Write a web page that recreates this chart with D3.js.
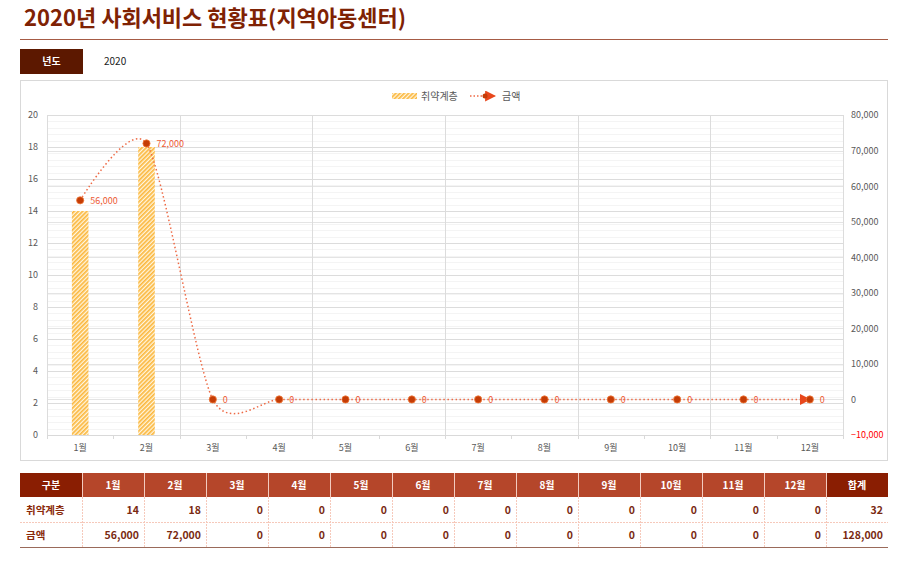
<!DOCTYPE html>
<html><head><meta charset="utf-8">
<script src="https://cdn.jsdelivr.net/npm/d3@7/dist/d3.min.js"></script>
<style>
body{margin:0;background:#fff;font-family:"Noto Sans CJK KR","Noto Sans",sans-serif;}
svg{display:block;}
</style></head><body>
<svg id="c" width="900" height="566"></svg>
<script>
const months = ["1월","2월","3월","4월","5월","6월","7월","8월","9월","10월","11월","12월"];
const vulnerable = [14,18,0,0,0,0,0,0,0,0,0,0];
const amount = [56000,72000,0,0,0,0,0,0,0,0,0,0];
const leftTicks = [0,2,4,6,8,10,12,14,16,18,20];
const rightTicks = [-10000,0,10000,20000,30000,40000,50000,60000,70000,80000];
const seriesNames = ["취약계층","금액"];
const titleText = "2020년 사회서비스 현황표(지역아동센터)";
const yearLabel = "년도", yearValue = "2020";
const tableHead = "구분", totalHead = "합계";

const svg = d3.select("#c");
const font = '"Noto Sans CJK KR","Noto Sans",sans-serif';

// title
svg.append("text").attr("x",24).attr("y",26).attr("font-size",22).attr("font-weight",700)
  .attr("fill","#7f2204").attr("font-family",font).text(titleText);
svg.append("line").attr("x1",20).attr("x2",888).attr("y1",39.5).attr("y2",39.5).attr("stroke","#a65b45").attr("stroke-width",1);
svg.append("rect").attr("x",20).attr("y",49).attr("width",63).attr("height",25).attr("fill","#5c1800");
svg.append("text").attr("x",51.5).attr("y",65).attr("text-anchor","middle").attr("font-size",10).attr("font-weight",700)
  .attr("fill","#fff").attr("font-family",font).text(yearLabel);
svg.append("text").attr("x",104).attr("y",65).attr("font-size",10).attr("fill","#222").attr("font-family",font).text(yearValue);

// chart panel
svg.append("rect").attr("x",20.5).attr("y",80.5).attr("width",867).attr("height",380).attr("fill","#fff").attr("stroke","#d9d9d9");

const L=47,R=843,T=115,B=435;
const x = d3.scaleBand().domain(months).range([L,R]).paddingInner(0.75).paddingOuter(0.375);
const xc = d3.scaleBand().domain(months).range([L,R]).padding(0);
const yL = d3.scaleLinear().domain([0,20]).range([B,T]);
const yR = d3.scaleLinear().domain([-10000,80000]).range([B,T]);

const defs = svg.append("defs");
const pat = defs.append("pattern").attr("id","hatch").attr("patternUnits","userSpaceOnUse")
  .attr("width",3).attr("height",3).attr("patternTransform","rotate(45)");
pat.append("rect").attr("width",3).attr("height",3).attr("fill","#fff6e0");
pat.append("rect").attr("width",1.7).attr("height",3).attr("fill","#fbb83f");
defs.append("marker").attr("id","arrow").attr("viewBox","0 0 10 10").attr("refX",9).attr("refY",5)
  .attr("markerWidth",11).attr("markerHeight",11).attr("markerUnits","userSpaceOnUse").attr("orient","auto")
  .append("path").attr("d","M0,0 L10,5 L0,10 z").attr("fill","#e8471c");

const g = svg.append("g");
// minor grid
g.selectAll(".mn").data(d3.range(0,20.001,0.4)).join("line")
  .attr("x1",L).attr("x2",R).attr("y1",d=>Math.round(yL(d))+0.5).attr("y2",d=>Math.round(yL(d))+0.5)
  .attr("stroke","#f4f4f4");
// right majors
g.selectAll(".rm").data(rightTicks).join("line")
  .attr("x1",L).attr("x2",R).attr("y1",d=>Math.round(yR(d))+0.5).attr("y2",d=>Math.round(yR(d))+0.5)
  .attr("stroke","#e4e4e4");
// left majors
g.selectAll(".lm").data(leftTicks).join("line")
  .attr("x1",L).attr("x2",R).attr("y1",d=>Math.round(yL(d))+0.5).attr("y2",d=>Math.round(yL(d))+0.5)
  .attr("stroke","#dcdcdc");
// vertical majors every 2 categories
const vx = [0,2,4,6,8,10,12].map(i=> i<12 ? xc(months[i]) : R);
g.selectAll(".vm").data(vx).join("line")
  .attr("x1",d=>Math.round(d)+0.5).attr("x2",d=>Math.round(d)+0.5).attr("y1",T).attr("y2",B)
  .attr("stroke","#dcdcdc");

// bars
g.selectAll(".bar").data(months).join("rect")
  .attr("x",d=>x(d)).attr("width",x.bandwidth())
  .attr("y",(d,i)=>yL(vulnerable[i])).attr("height",(d,i)=>B-yL(vulnerable[i]))
  .attr("fill","url(#hatch)");

// x axis
const xa = svg.append("g").attr("transform",`translate(0,${B})`)
  .call(d3.axisBottom(xc).tickSize(0).tickPadding(10));
xa.select(".domain").attr("stroke","#d9d9d9");
xa.selectAll("text").attr("font-size",9).attr("fill","#595959").attr("font-family",font);
svg.append("g").selectAll("line").data(d3.range(0,13)).join("line")
  .attr("x1",i=>Math.round(L+i*xc.step())+0.5).attr("x2",i=>Math.round(L+i*xc.step())+0.5)
  .attr("y1",B).attr("y2",B+4).attr("stroke","#d9d9d9");

// left axis
const la = svg.append("g").attr("transform",`translate(${L-9},0)`)
  .call(d3.axisLeft(yL).tickValues(leftTicks).tickSize(0).tickPadding(0));
la.select(".domain").remove();
la.selectAll("text").attr("font-size",9).attr("fill","#595959").attr("font-family",font);
// right axis
const ra = svg.append("g").attr("transform",`translate(${R+8},0)`)
  .call(d3.axisRight(yR).tickValues(rightTicks).tickSize(0).tickPadding(0).tickFormat(d3.format(",")));
ra.select(".domain").remove();
ra.selectAll("text").attr("font-size",9).attr("font-family",font).attr("fill",d=>d<0?"#ff0000":"#595959");

// line
const pts = months.map((m,i)=>[xc(m)+xc.bandwidth()/2, yR(amount[i])]);
svg.append("path").attr("d",d3.line().curve(d3.curveCardinal.tension(0.25))(pts))
  .attr("fill","none").attr("stroke","#ee6a45").attr("stroke-width",1.5).attr("stroke-dasharray","1.5,2.5")
  .attr("marker-end","url(#arrow)");
svg.append("g").selectAll("circle").data(pts).join("circle")
  .attr("cx",d=>d[0]).attr("cy",d=>d[1]).attr("r",3.6).attr("fill","#c43c06").attr("stroke","#f07a3a").attr("stroke-width",0.8);
svg.append("g").selectAll("text").data(pts).join("text")
  .attr("x",d=>d[0]+10).attr("y",d=>d[1]+3.5).attr("font-size",9).attr("fill","#ee5a35").attr("font-family",font)
  .text((d,i)=>d3.format(",")(amount[i]));

// legend
const lg = svg.append("g");
lg.append("rect").attr("x",392).attr("y",93).attr("width",25).attr("height",6).attr("fill","url(#hatch)");
lg.append("text").attr("x",421).attr("y",100).attr("font-size",10).attr("fill","#595959").attr("font-family",font).text(seriesNames[0]);
lg.append("line").attr("x1",470).attr("x2",495).attr("y1",96).attr("y2",96).attr("stroke","#ee6a45").attr("stroke-width",1.5)
  .attr("stroke-dasharray","1.5,2").attr("marker-end","url(#arrow)");
lg.append("circle").attr("cx",485).attr("cy",96).attr("r",2.5).attr("fill","#c43c06");
lg.append("text").attr("x",502).attr("y",100).attr("font-size",10).attr("fill","#595959").attr("font-family",font).text(seriesNames[1]);

// table
const tx0=20, cw=62, hy=473, hh=24, rh=25;
const headers = [tableHead, ...months, totalHead];
const rows = [
  [seriesNames[0], ...vulnerable, d3.sum(vulnerable)],
  [seriesNames[1], ...amount, d3.sum(amount)]
];
const tb = svg.append("g").attr("font-family",font);
headers.forEach((h,i)=>{
  tb.append("rect").attr("x",tx0+i*cw).attr("y",hy).attr("width",cw).attr("height",hh)
    .attr("fill",(i===0||i===headers.length-1)?"#8a1e02":"#b5462a");
  tb.append("text").attr("x",tx0+i*cw+cw/2).attr("y",hy+16).attr("text-anchor","middle")
    .attr("font-size",10).attr("font-weight",700).attr("fill","#fff").text(h);
});
for(let i=1;i<headers.length;i++){
  tb.append("line").attr("x1",tx0+i*cw+0.5).attr("x2",tx0+i*cw+0.5).attr("y1",hy).attr("y2",hy+hh).attr("stroke","#f3cbbf").attr("stroke-width",1);
}
rows.forEach((r,ri)=>{
  const y0 = hy+hh+ri*rh;
  r.forEach((v,ci)=>{
    if(ci===0){
      tb.append("text").attr("x",tx0+6).attr("y",y0+16.5).attr("font-size",10.5).attr("font-weight",700).attr("fill","#8a2a0a").text(v);
    } else {
      tb.append("text").attr("x",tx0+ci*cw+cw-5).attr("y",y0+16.5).attr("text-anchor","end").attr("font-size",10.5).attr("font-weight",700).attr("fill","#7a2a12")
        .text(d3.format(",")(v));
    }
  });
  if(ri===0) tb.append("line").attr("x1",tx0).attr("x2",tx0+14*cw).attr("y1",y0+rh+0.5).attr("y2",y0+rh+0.5).attr("stroke","#f6c9bb").attr("stroke-dasharray","2,1");
});
for(let i=1;i<headers.length;i++){
  tb.append("line").attr("x1",tx0+i*cw+0.5).attr("x2",tx0+i*cw+0.5).attr("y1",hy+hh).attr("y2",hy+hh+2*rh).attr("stroke","#f6c9bb").attr("stroke-dasharray","2,1");
}
tb.append("line").attr("x1",tx0).attr("x2",tx0+14*cw).attr("y1",hy+hh+2*rh+0.5).attr("y2",hy+hh+2*rh+0.5).attr("stroke","#9a6a5a").attr("stroke-width",1.2);
</script></body></html>
